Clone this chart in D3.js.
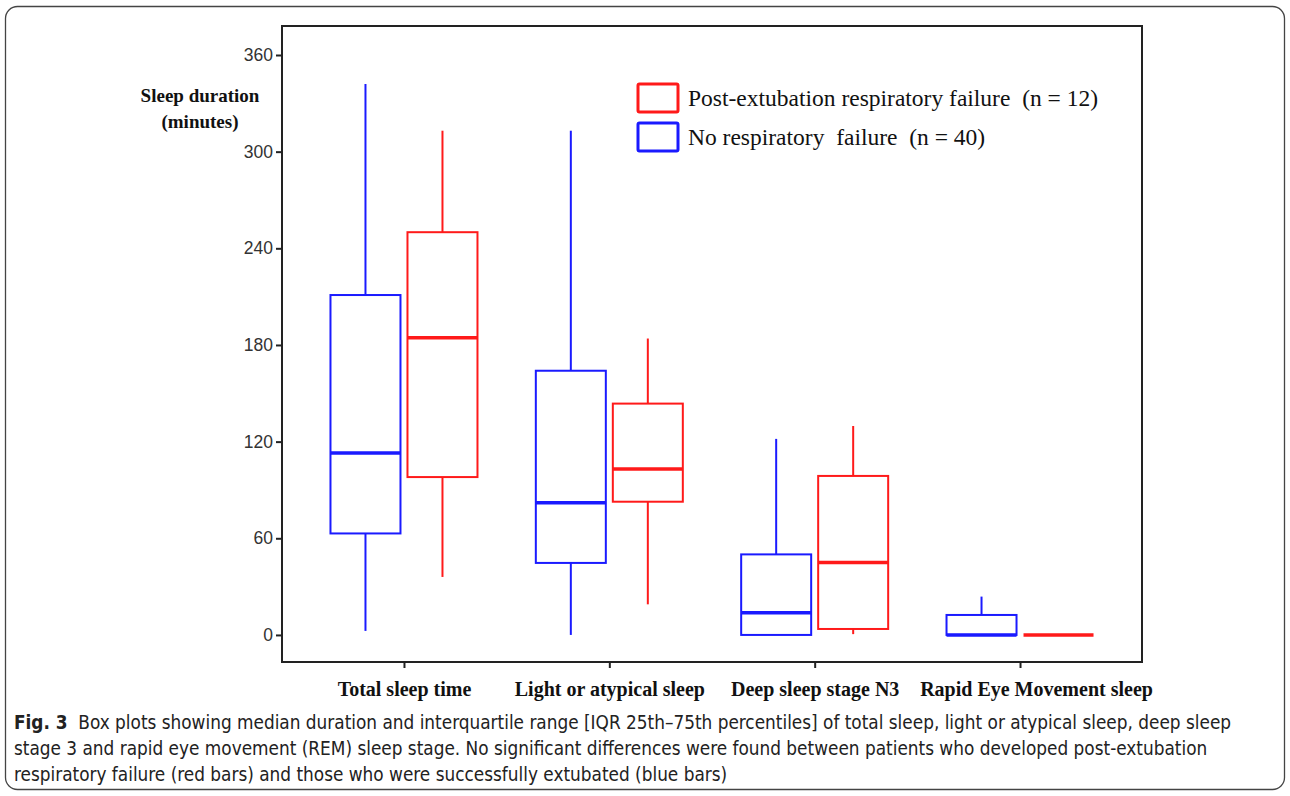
<!DOCTYPE html>
<html>
<head>
<meta charset="utf-8">
<script src="https://cdn.jsdelivr.net/npm/d3@7"></script>
<style>
  body { margin: 0; background: #fff; }
  text { white-space: pre; }
</style>
</head>
<body>
<script>
// DATA
var categories = ["Total sleep time", "Light or atypical sleep", "Deep sleep stage N3", "Rapid Eye Movement sleep"];
var groups = ["No respiratory failure", "Post-extubation respiratory failure"];
var legendLabels = ["Post-extubation respiratory failure  (n = 12)", "No respiratory  failure  (n = 40)"];
// [min, q1, median, q3, max] per category
var noFailure = [[2.5, 63, 113, 211, 342], [0, 44.7, 82, 164, 313], [0, 0, 13.8, 50, 121.7], [0, 0, 0, 12.4, 23.8]];
var postFailure = [[36, 98, 184.5, 250, 313], [19, 82.7, 103, 143.6, 184], [0.5, 3.7, 45, 98.7, 129.7], [0, 0, 0, 0, 0]];
var yTicks = [0, 60, 120, 180, 240, 300, 360];
var captionLines = [
  ["Fig. 3", "  Box plots showing median duration and interquartile range [IQR 25th\u201375th percentiles] of total sleep, light or atypical sleep, deep sleep"],
  ["", "stage 3 and rapid eye movement (REM) sleep stage. No significant differences were found between patients who developed post-extubation"],
  ["", "respiratory failure (red bars) and those who were successfully extubated (blue bars)"]
];

var W = 1290, H = 796;
var frame = { left: 282, right: 1142, top: 26, bottom: 662 };
var colors = { "No respiratory failure": "#1a1aff", "Post-extubation respiratory failure": "#ff1a1a" };
var serif = "'Liberation Serif', 'Times New Roman', serif";

var svg = d3.select("body").append("svg")
  .attr("width", W)
  .attr("height", H);

// outer rounded border
svg.append("rect")
  .attr("x", 5.5).attr("y", 6.5)
  .attr("width", 1279).attr("height", 783)
  .attr("rx", 12).attr("ry", 12)
  .attr("fill", "none")
  .attr("stroke", "#444")
  .attr("stroke-width", 1.3);

var x = d3.scalePoint()
  .domain(categories)
  .range([frame.left, frame.right])
  .padding(0.594);

var y = d3.scaleLinear()
  .domain([-16.8, 378])
  .range([frame.bottom, frame.top]);

var boxW = 70, gap = 3.5;

// plot frame
svg.append("rect")
  .attr("x", frame.left).attr("y", frame.top)
  .attr("width", frame.right - frame.left)
  .attr("height", frame.bottom - frame.top)
  .attr("fill", "none")
  .attr("stroke", "#222")
  .attr("stroke-width", 2);

// y axis
var yAxis = d3.axisLeft(y).tickValues(yTicks).tickSize(6).tickPadding(3);
var gy = svg.append("g")
  .attr("transform", "translate(" + frame.left + ",0)")
  .call(yAxis);
gy.select(".domain").remove();
gy.selectAll(".tick line").attr("stroke", "#222").attr("stroke-width", 2);
gy.selectAll(".tick text")
  .attr("font-family", "'Liberation Sans', Arial, sans-serif")
  .attr("font-size", 17.5)
  .attr("fill", "#333");

// x axis
var xAxis = d3.axisBottom(x).tickSize(6).tickPadding(14);
var gx = svg.append("g")
  .attr("transform", "translate(0," + frame.bottom + ")")
  .call(xAxis);
gx.select(".domain").remove();
gx.selectAll(".tick line").attr("stroke", "#222").attr("stroke-width", 2);
gx.selectAll(".tick text")
  .attr("font-family", serif)
  .attr("font-weight", "bold")
  .attr("font-size", 20)
  .attr("fill", "#111")
  .attr("dx", function (d, i) { return i === 3 ? 16 : 0; });

// y label
["Sleep duration", "(minutes)"].forEach(function (s, i) {
  svg.append("text")
    .attr("x", 200).attr("y", 102 + i * 26)
    .attr("text-anchor", "middle")
    .attr("font-family", serif)
    .attr("font-weight", "bold")
    .attr("font-size", 19)
    .attr("fill", "#111")
    .text(s);
});

// boxes
function drawBoxes(stats, group, side) {
  var col = colors[group];
  var g = svg.append("g").attr("class", "series");
  stats.forEach(function (s, i) {
    var cx = x(categories[i]);
    var x0 = side < 0 ? cx - gap - boxW : cx + gap;
    var mid = x0 + boxW / 2;
    // whiskers
    g.append("line")
      .attr("x1", mid).attr("x2", mid)
      .attr("y1", y(s[3])).attr("y2", y(s[4]))
      .attr("stroke", col).attr("stroke-width", 2);
    g.append("line")
      .attr("x1", mid).attr("x2", mid)
      .attr("y1", y(s[1])).attr("y2", y(s[0]))
      .attr("stroke", col).attr("stroke-width", 2);
    // box
    g.append("rect")
      .attr("x", x0).attr("y", y(s[3]))
      .attr("width", boxW).attr("height", y(s[1]) - y(s[3]))
      .attr("fill", "none")
      .attr("stroke", col).attr("stroke-width", 2);
    // median
    g.append("line")
      .attr("x1", x0).attr("x2", x0 + boxW)
      .attr("y1", y(s[2])).attr("y2", y(s[2]))
      .attr("stroke", col).attr("stroke-width", 3.5);
  });
}
drawBoxes(noFailure, groups[0], -1);
drawBoxes(postFailure, groups[1], 1);

// legend
var legend = svg.append("g").attr("transform", "translate(638,84)");
[groups[1], groups[0]].forEach(function (gname, i) {
  legend.append("rect")
    .attr("x", 0).attr("y", i * 39)
    .attr("width", 40).attr("height", 28)
    .attr("fill", "none")
    .attr("stroke", colors[gname])
    .attr("stroke-width", 3)
    .attr("rx", 1.5);
  legend.append("text")
    .attr("x", 50).attr("y", i * 39 + 22)
    .attr("font-family", serif)
    .attr("font-size", 23.5)
    .attr("fill", "#111")
    .text(legendLabels[i]);
});

// caption
var cap = svg.append("g");
var capTexts = captionLines.map(function (line, i) {
  var t = cap.append("text")
    .attr("x", 14).attr("y", 729 + i * 26)
    .attr("font-family", "'Liberation Sans Narrow', 'DejaVu Sans Condensed', sans-serif")
    .attr("font-size", 18)
    .attr("fill", "#222");
  if (line[0]) t.append("tspan").attr("font-weight", "bold").text(line[0]);
  t.append("tspan").text(line[1]);
  return t;
});
// fit the first caption line to the reference width, same size for all lines
var w0 = capTexts[0].node().getComputedTextLength();
var fs = 18 * 1218 / w0;
capTexts.forEach(function (t) { t.attr("font-size", fs); });
</script>
</body>
</html>
